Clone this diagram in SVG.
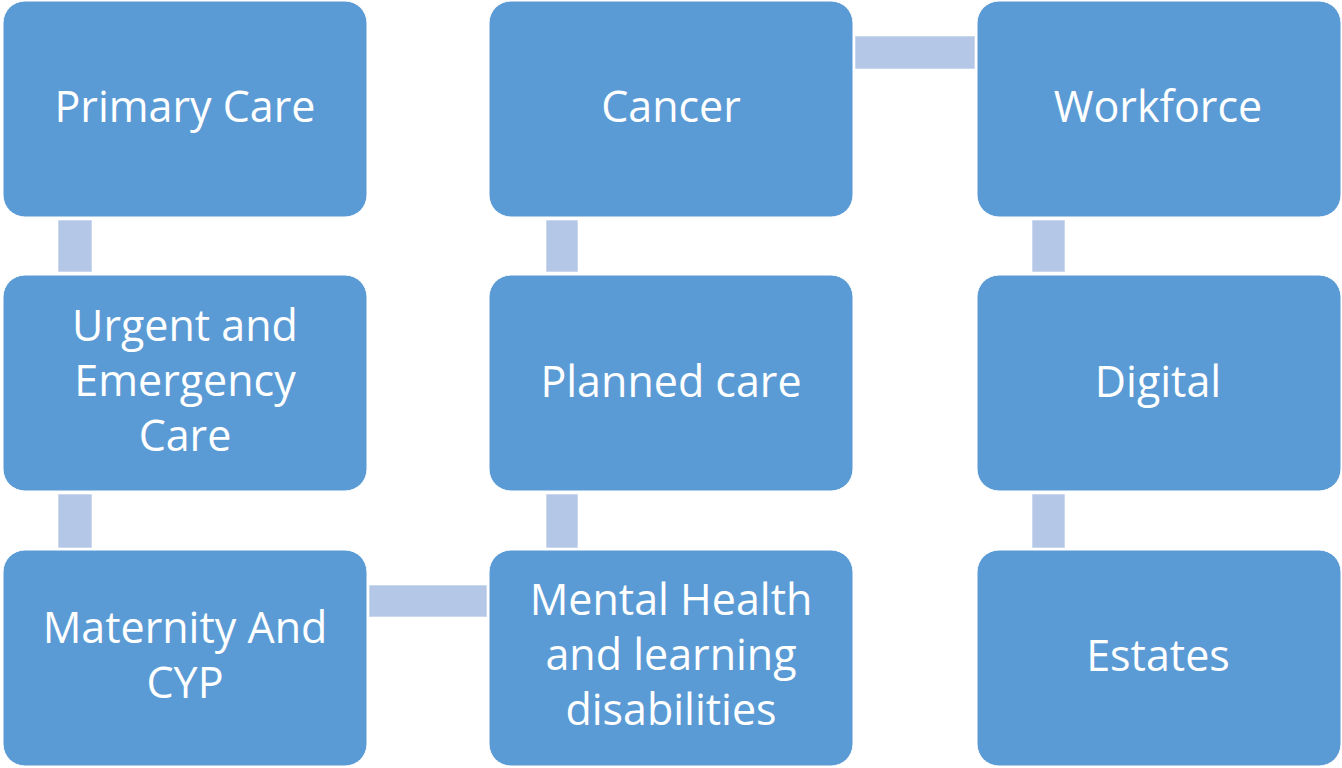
<svg xmlns="http://www.w3.org/2000/svg" width="1342" height="768" viewBox="0 0 1342 768">
<style>
.box{fill:#5B9BD5;stroke:#ffffff;stroke-width:1}
.con{fill:#B4C7E7;stroke:#ffffff;stroke-opacity:0.6;stroke-width:1}
.lbl{fill:#ffffff;font-family:"Open Sans","Noto Sans","Liberation Sans",sans-serif;font-size:43px;text-anchor:middle}
</style>
<rect width="1342" height="768" fill="#ffffff"/>
<g id="connectors">
<rect class="con" x="58" y="220" width="34" height="52"/>
<rect class="con" x="58" y="494" width="34" height="54"/>
<rect class="con" x="369" y="585" width="118" height="32"/>
<rect class="con" x="546" y="494" width="32" height="54"/>
<rect class="con" x="546" y="220" width="32" height="52"/>
<rect class="con" x="855" y="36" width="120" height="33"/>
<rect class="con" x="1032" y="220" width="33" height="52"/>
<rect class="con" x="1032" y="494" width="33" height="54"/>
</g>
<g id="primary-care"><rect class="box" x="3" y="1" width="364" height="216" rx="22"/><text class="lbl" x="185" y="122">Primary Care</text></g>
<g id="urgent-emergency"><rect class="box" x="3" y="275" width="364" height="216" rx="22"/><text class="lbl" x="185" y="341">Urgent and</text><text class="lbl" x="185" y="396">Emergency</text><text class="lbl" x="185" y="451">Care</text></g>
<g id="maternity"><rect class="box" x="3" y="550" width="364" height="216" rx="22"/><text class="lbl" x="185" y="643">Maternity And</text><text class="lbl" x="185" y="698">CYP</text></g>
<g id="cancer"><rect class="box" x="489" y="1" width="364" height="216" rx="22"/><text class="lbl" x="671" y="122">Cancer</text></g>
<g id="planned-care"><rect class="box" x="489" y="275" width="364" height="216" rx="22"/><text class="lbl" x="671" y="397">Planned care</text></g>
<g id="mental-health"><rect class="box" x="489" y="550" width="364" height="216" rx="22"/><text class="lbl" x="671" y="615">Mental Health</text><text class="lbl" x="671" y="670">and learning</text><text class="lbl" x="671" y="725">disabilities</text></g>
<g id="workforce"><rect class="box" x="977" y="1" width="364" height="216" rx="22"/><text class="lbl" x="1158" y="122">Workforce</text></g>
<g id="digital"><rect class="box" x="977" y="275" width="364" height="216" rx="22"/><text class="lbl" x="1158" y="397">Digital</text></g>
<g id="estates"><rect class="box" x="977" y="550" width="364" height="216" rx="22"/><text class="lbl" x="1158" y="671">Estates</text></g>
</svg>
